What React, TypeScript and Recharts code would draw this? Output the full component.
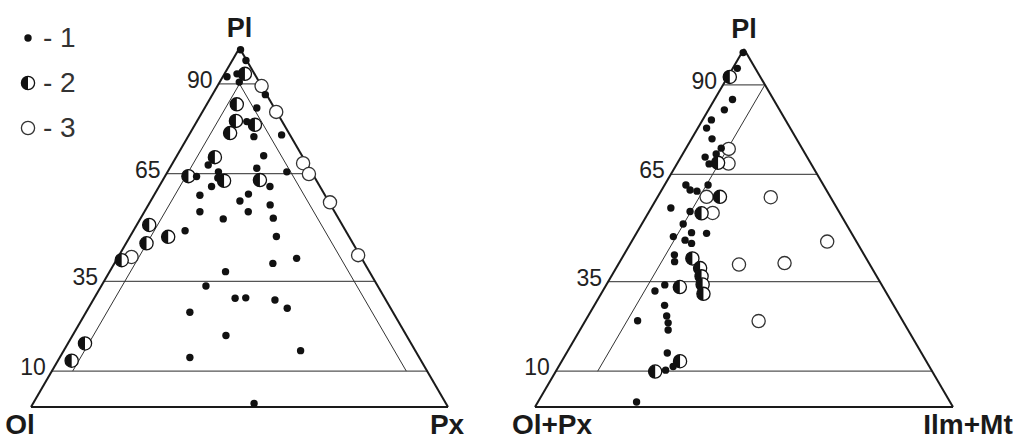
import React from 'react';
import { ScatterChart, Scatter, XAxis, YAxis, ReferenceLine, ReferenceDot } from 'recharts';

const SQ = Math.sqrt(3) / 2;

// Pl levels marked on both diagrams
const plTicks = [10, 35, 65, 90];

// Left diagram, points as [Pl, Px] (Ol = 100 - Pl - Px)
const leftDots: [number, number][] = [
  [99.5, 0.5], [96.5, 3.3], [92, 1], [90.5, 4.7], [92.8, 3], [87, 12.7], [83.3, 12.5],
  [79.5, 12], [75.3, 15.8], [75.8, 22.2], [70, 20.8], [65.5, 28.6], [66.5, 20.9],
  [61.4, 26.6], [67.4, 8.8], [64.2, 7.6], [65.5, 12.2], [63.8, 12.9], [61.4, 12.6],
  [59, 11], [59.3, 22.5], [57.4, 21.4], [56.3, 29.2], [54.4, 13.3], [54.4, 24.9],
  [52.4, 19.9], [52.6, 31.8], [49.1, 12.4], [47.5, 35.1], [41.4, 43], [40, 38],
  [37.7, 27.8], [33.7, 25.1], [30.3, 33.8], [30.4, 36.3], [29.8, 43.6], [27.5, 47.7],
  [26.4, 24.9], [19.9, 36.8], [15.7, 56.8], [13.8, 31.2], [1, 53],
];
const leftHalf: [number, number][] = [
  [92.8, 4.9], [84.3, 7.2], [79.7, 9.3], [78.6, 14.4], [76.3, 9.6], [69.6, 9.3],
  [64.3, 5.6], [63, 14.8], [63.2, 23.3], [50.7, 3], [47.4, 9.2], [45.6, 4.9],
  [40.9, 1.3], [17.7, 4.1], [12.9, 3.3],
];
const leftOpen: [number, number][] = [
  [89.4, 10.6], [82.2, 17.7], [67.9, 31.3], [64.9, 34.2], [57, 43.2], [42.3, 57.3], [41.8, 3.2],
];

// Right diagram, points as [Pl, Ilm+Mt] (Ol+Px = rest)
const rightDots: [number, number][] = [
  [99, 0.3], [94.6, 1.1], [85.9, 4.3], [83, 3.8], [80.2, 2.1], [77.9, 2.1], [74.9, 4.9],
  [72.3, 8.4], [70.7, 8], [69.8, 5.8], [67.9, 7.7], [62, 5.1], [60.6, 6.8], [60.3, 8.6],
  [62, 10.4], [55.6, 4.7], [54.6, 9.8], [51.1, 9.9], [48.5, 16.8], [47.6, 9.3],
  [48.7, 13.1], [46.6, 12.6], [45.7, 14.6], [42.5, 12.1], [40.6, 13.1], [34.1, 14],
  [32.4, 12.5], [28.4, 16.8], [24.1, 12.5], [25.4, 18.8], [23.5, 20.1], [21.5, 21.1],
  [15.1, 24.1], [10.3, 26.1], [11.3, 27.4], [1.4, 23.6],
];
const rightHalf: [number, number][] = [
  [92.2, 0.5], [68.2, 9.7], [58.7, 14.9], [54.1, 12.8], [41.5, 16.9], [38.8, 20.1],
  [36.5, 21.6], [34.2, 23], [31.6, 24.5], [33.5, 17.9], [12.8, 28.3], [9.9, 23.8],
];
const rightOpen: [number, number][] = [
  [72.1, 10.3], [68, 12.3], [58.7, 11.7], [54.2, 15.4], [58.6, 27.1], [46.2, 46.8],
  [39.8, 28.9], [40.2, 39.6], [24, 41.5],
];

// guide lines inside the triangles, [Pl, right-corner %] at both ends
const leftGuides: [number, number][][] = [
  [[90, 5], [10, 5]],
  [[90, 5], [10, 85]],
];
const rightGuides: [number, number][][] = [[[90, 10], [10, 10]]];

const leftCorners = ['Pl', 'Ol', 'Px'];
const rightCorners = ['Pl', 'Ol+Px', 'Ilm+Mt'];
const legendLabels = ['1', '2', '3'];

const FONT = '"Liberation Sans", Arial, sans-serif';

const toXY = ([pl, r]: [number, number]) => ({ x: r + pl / 2, y: pl * SQ });

const DotShape = (p: any) => <circle cx={p.cx} cy={p.cy} r={3.7} fill="#111" />;
const OpenShape = (p: any) => (
  <circle cx={p.cx} cy={p.cy} r={6.6} fill="#fff" stroke="#333" strokeWidth={1.3} />
);
const HalfShape = (p: any) => {
  const r = 6.6;
  return (
    <g>
      <circle cx={p.cx} cy={p.cy} r={r} fill="#fff" stroke="#111" strokeWidth={1.3} />
      <path d={`M${p.cx},${p.cy - r} A${r},${r} 0 0 0 ${p.cx},${p.cy + r} Z`} fill="#111" />
    </g>
  );
};

interface PanelProps {
  width: number;
  margin: { top: number; right: number; bottom: number; left: number };
  dots: [number, number][];
  half: [number, number][];
  open: [number, number][];
  guides: [number, number][][];
  corners: string[];
  cornerDx: number[];
}

function TernaryPanel({ width, margin, dots, half, open, guides, corners, cornerDx }: PanelProps) {
  const A = toXY([100, 0]);
  const B = toXY([0, 0]);
  const C = toXY([0, 100]);
  return (
    <ScatterChart width={width} height={441} margin={margin}>
      <XAxis type="number" dataKey="x" domain={[0, 100]} hide />
      <YAxis type="number" dataKey="y" domain={[0, 100 * SQ]} hide />
      {plTicks.map((t) => (
        <ReferenceLine
          key={'h' + t}
          segment={[toXY([t, 0]), toXY([t, 100 - t])]}
          stroke="#555"
          strokeWidth={1.3}
          ifOverflow="visible"
        />
      ))}
      {guides.map((g, i) => (
        <ReferenceLine
          key={'g' + i}
          segment={[toXY(g[0]), toXY(g[1])]}
          stroke="#333"
          strokeWidth={1}
          ifOverflow="visible"
        />
      ))}
      <ReferenceLine segment={[B, C]} stroke="#1a1a1a" strokeWidth={2} ifOverflow="visible" />
      <ReferenceLine segment={[A, B]} stroke="#1a1a1a" strokeWidth={2} ifOverflow="visible" />
      <ReferenceLine segment={[A, C]} stroke="#1a1a1a" strokeWidth={2} ifOverflow="visible" />
      {plTicks.map((t) => {
        const p = toXY([t, 0]);
        return (
          <ReferenceDot
            key={'t' + t}
            x={p.x}
            y={p.y}
            r={0}
            ifOverflow="visible"
            shape={(s: any) => (
              <text x={s.cx - 6} y={s.cy + 4} textAnchor="end" fontSize={23} fontFamily={FONT} fill="#222">
                {t}
              </text>
            )}
          />
        );
      })}
      {[A, B, C].map((v, i) => (
        <ReferenceDot
          key={'c' + i}
          x={v.x}
          y={v.y}
          r={0}
          ifOverflow="visible"
          shape={(s: any) => (
            <text
              x={s.cx + cornerDx[i]}
              y={i === 0 ? s.cy - 11 : s.cy + 27}
              textAnchor="middle"
              fontSize={i === 0 ? 27 : 28}
              fontWeight="bold"
              fontFamily={FONT}
              fill="#1a1a1a"
            >
              {corners[i]}
            </text>
          )}
        />
      ))}
      <Scatter data={open.map(toXY)} shape={OpenShape} isAnimationActive={false} />
      <Scatter data={half.map(toXY)} shape={HalfShape} isAnimationActive={false} />
      <Scatter data={dots.map(toXY)} shape={DotShape} isAnimationActive={false} />
    </ScatterChart>
  );
}

function Legend() {
  const shapes = [DotShape, HalfShape, OpenShape];
  return (
    <svg width={100} height={150} style={{ position: 'absolute', left: 0, top: 0 }}>
      {legendLabels.map((l, i) => {
        const Shape = shapes[i];
        const cy = 38 + i * 45;
        return (
          <g key={l}>
            <Shape cx={28} cy={cy} />
            <text x={43} y={cy + 9} fontSize={28} fontFamily={FONT} fill="#333">
              {'- ' + l}
            </text>
          </g>
        );
      })}
    </svg>
  );
}

export default function App() {
  return (
    <div style={{ position: 'relative', width: 1021, height: 441, background: '#fff', overflow: 'hidden' }}>
      <style>{'body{margin:0}'}</style>
      <div style={{ position: 'absolute', left: 0, top: 0 }}>
        <TernaryPanel
          width={510}
          margin={{ top: 48, right: 62, bottom: 34, left: 31 }}
          dots={leftDots}
          half={leftHalf}
          open={leftOpen}
          guides={leftGuides}
          corners={leftCorners}
          cornerDx={[0, -11, -1]}
        />
      </div>
      <div style={{ position: 'absolute', left: 510, top: 0 }}>
        <TernaryPanel
          width={511}
          margin={{ top: 49, right: 68, bottom: 34, left: 25 }}
          dots={rightDots}
          half={rightHalf}
          open={rightOpen}
          guides={rightGuides}
          corners={rightCorners}
          cornerDx={[0, 17, 15]}
        />
      </div>
      <Legend />
    </div>
  );
}
